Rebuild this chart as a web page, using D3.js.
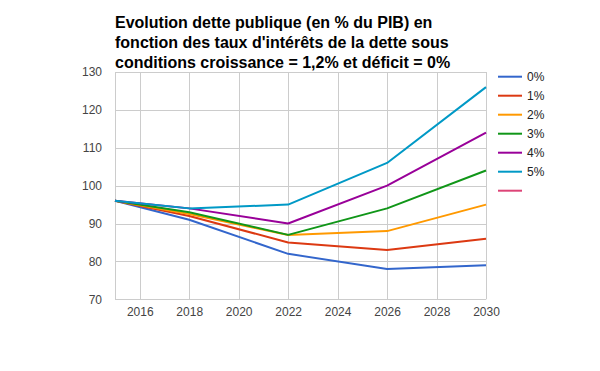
<!DOCTYPE html>
<html>
<head>
<meta charset="utf-8">
<script src="https://cdn.jsdelivr.net/npm/d3@7"></script>
<style>
  body { margin: 0; background: #fff; }
  text { font-family: Arial, "Liberation Sans", sans-serif; }
</style>
</head>
<body>
<script>
var years = [2015, 2018, 2022, 2026, 2030];
var seriesNames = ["0%", "1%", "2%", "3%", "4%", "5%", ""];
var taux0 = [96, 91, 82, 78, 79];
var taux1 = [96, 92, 85, 83, 86];
var taux2 = [96, 92.5, 87, 88, 95];
var taux3 = [96, 93, 87, 94, 104];
var taux4 = [96, 94, 90, 100, 114];
var taux5 = [96, 94, 95, 106, 126];
var xTicks = [2016, 2018, 2020, 2022, 2024, 2026, 2028, 2030];
var yTicks = [70, 80, 90, 100, 110, 120, 130];
var colors = ["#3366cc", "#dc3912", "#ff9900", "#109618", "#990099", "#0099c6", "#dd4477"];
var titleLines = [
    "Evolution dette publique (en % du PIB) en",
    "fonction des taux d'intérêts de la dette sous",
    "conditions croissance = 1,2% et déficit = 0%"
];

var series = [taux0, taux1, taux2, taux3, taux4, taux5];

var width = 600,
    height = 371;

var svg = d3.select("body")
    .append("svg")
    .attr("width", width)
    .attr("height", height);

var x = d3.scaleLinear().domain([2015, 2030]).range([115, 486]);
var y = d3.scaleLinear().domain([70, 130]).range([299.3, 72]);

// grid
svg.append("g")
    .selectAll("line")
    .data(yTicks)
    .enter()
    .append("line")
    .attr("x1", x(2015))
    .attr("x2", x(2030))
    .attr("y1", function(d) { return Math.round(y(d)) + 0.5; })
    .attr("y2", function(d) { return Math.round(y(d)) + 0.5; })
    .attr("stroke", "#cccccc");

svg.append("g")
    .selectAll("line")
    .data([2015].concat(xTicks))
    .enter()
    .append("line")
    .attr("x1", function(d) { return Math.round(x(d)) + 0.5; })
    .attr("x2", function(d) { return Math.round(x(d)) + 0.5; })
    .attr("y1", y(130))
    .attr("y2", y(70))
    .attr("stroke", "#cccccc");

// axes labels
var yAxis = d3.axisLeft(y).tickValues(yTicks).tickSize(0).tickPadding(13);
var gy = svg.append("g").attr("transform", "translate(" + x(2015) + ",0)").call(yAxis);
gy.select(".domain").remove();
gy.selectAll("text").attr("font-size", 12).attr("fill", "#444").attr("font-family", "Arial, 'Liberation Sans', sans-serif");

var xAxis = d3.axisBottom(x).tickValues(xTicks).tickFormat(d3.format("d")).tickSize(0).tickPadding(8);
var gx = svg.append("g").attr("transform", "translate(0," + y(70) + ")").call(xAxis);
gx.select(".domain").remove();
gx.selectAll("text").attr("font-size", 12).attr("fill", "#444").attr("font-family", "Arial, 'Liberation Sans', sans-serif");

// lines
var line = d3.line()
    .x(function(d, i) { return x(years[i]); })
    .y(function(d) { return y(d); });

svg.append("g")
    .selectAll("path")
    .data(series)
    .enter()
    .append("path")
    .attr("fill", "none")
    .attr("stroke", function(d, i) { return colors[i]; })
    .attr("stroke-width", 2)
    .attr("stroke-linejoin", "round")
    .attr("d", line);

// legend
var legend = svg.append("g")
    .selectAll("g")
    .data(seriesNames)
    .enter()
    .append("g")
    .attr("transform", function(d, i) { return "translate(498," + (76.7 + i * 19) + ")"; });

legend.append("line")
    .attr("x1", 0)
    .attr("x2", 24)
    .attr("stroke", function(d, i) { return colors[i]; })
    .attr("stroke-width", 2);

legend.append("text")
    .attr("x", 29)
    .attr("dy", "0.35em")
    .attr("font-size", 12)
    .attr("fill", "#222")
    .text(function(d) { return d; });

// title
svg.append("g")
    .selectAll("text")
    .data(titleLines)
    .enter()
    .append("text")
    .attr("x", 115)
    .attr("y", function(d, i) { return 27.5 + i * 20.3; })
    .attr("font-size", 16)
    .attr("font-weight", "bold")
    .attr("fill", "#000")
    .text(function(d) { return d; });
</script>
</body>
</html>
